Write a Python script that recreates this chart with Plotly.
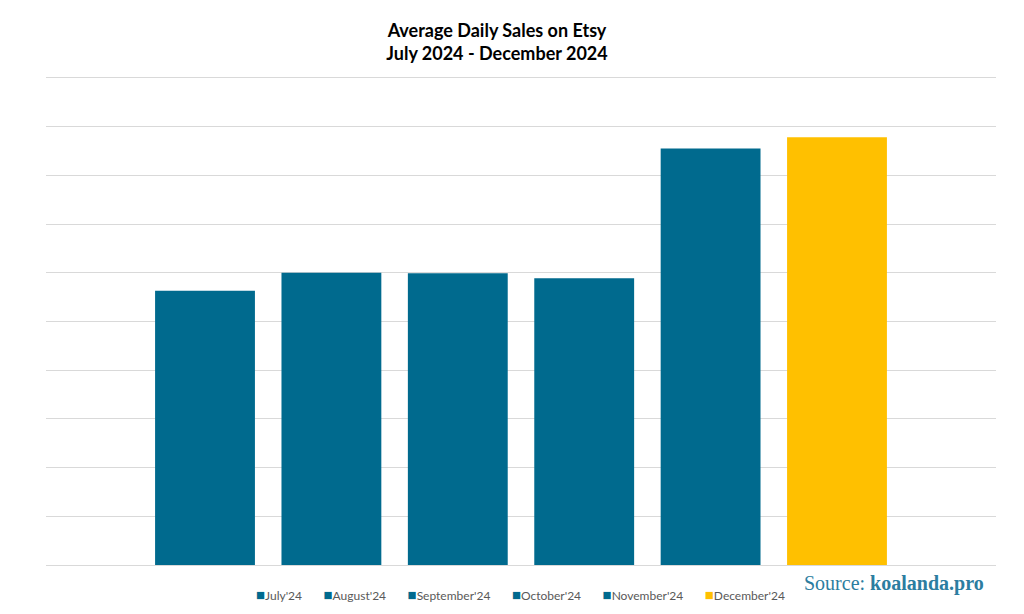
import plotly.graph_objects as go

months = ["July'24", "August'24", "September'24", "October'24", "November'24", "December'24"]
values = [5.63, 6.00, 5.99, 5.89, 8.55, 8.78]
colors = ["#006A8E", "#006A8E", "#006A8E", "#006A8E", "#006A8E", "#FFC000"]

W, H = 1024, 614
# the page body adds an 8px offset, so figure coordinates are shifted by 8px
OFF = 8
L, R, T, B = 46 - OFF, 36, 68, 57
YTOP = 10.04

fig = go.Figure()
for i, (m, v, c) in enumerate(zip(months, values, colors)):
    fig.add_trace(go.Bar(x=[i], y=[v], name=m, marker=dict(color=c, line=dict(width=0)),
                         width=0.79, hoverinfo="y+name", showlegend=False))

gap = "&nbsp;" * 7
legend_text = gap.join(
    f"<span style='color:{c};font-size:15px'>■</span>{m}" for m, c in zip(months, colors)
)

pw = W - L - R
ph = H - T - B

def px_x(x):
    return (x - OFF - L) / pw

def px_y(y):
    return 1 - (y - OFF - T) / ph

fig.update_layout(
    width=W, height=H,
    paper_bgcolor="white", plot_bgcolor="white",
    margin=dict(l=L, r=R, t=T, b=B, autoexpand=False),
    barmode="overlay",
    title=dict(text="<b>Average Daily Sales on Etsy<br>July 2024 - December 2024</b>",
               x=489/W, xanchor="center", y=1-29/H, yanchor="top",
               font=dict(family="Lato, Open Sans, sans-serif", size=18, color="#000000")),
    xaxis=dict(range=[-1.258, 6.258], showticklabels=False, showgrid=False, zeroline=False,
               showline=False, fixedrange=True),
    yaxis=dict(range=[0, YTOP], dtick=1, showticklabels=False, showgrid=True, gridcolor="#D9D9D9",
               gridwidth=1, zeroline=True, zerolinecolor="#D9D9D9", zerolinewidth=1,
               showline=False, fixedrange=True),
    showlegend=False,
    annotations=[
        dict(text=legend_text, xref="paper", yref="paper",
             x=px_x(520), y=px_y(594),
             xanchor="center", yanchor="middle", showarrow=False,
             font=dict(family="Lato, Open Sans, sans-serif", size=12, color="#595959")),
        dict(text="Source: <b>koalanda.pro</b>", xref="paper", yref="paper",
             x=px_x(986), y=px_y(583),
             xanchor="right", yanchor="middle", showarrow=False,
             font=dict(family="Liberation Serif, DejaVu Serif, serif", size=20, color="#2C7DA0")),
    ],
)

fig.write_html("out.html")
